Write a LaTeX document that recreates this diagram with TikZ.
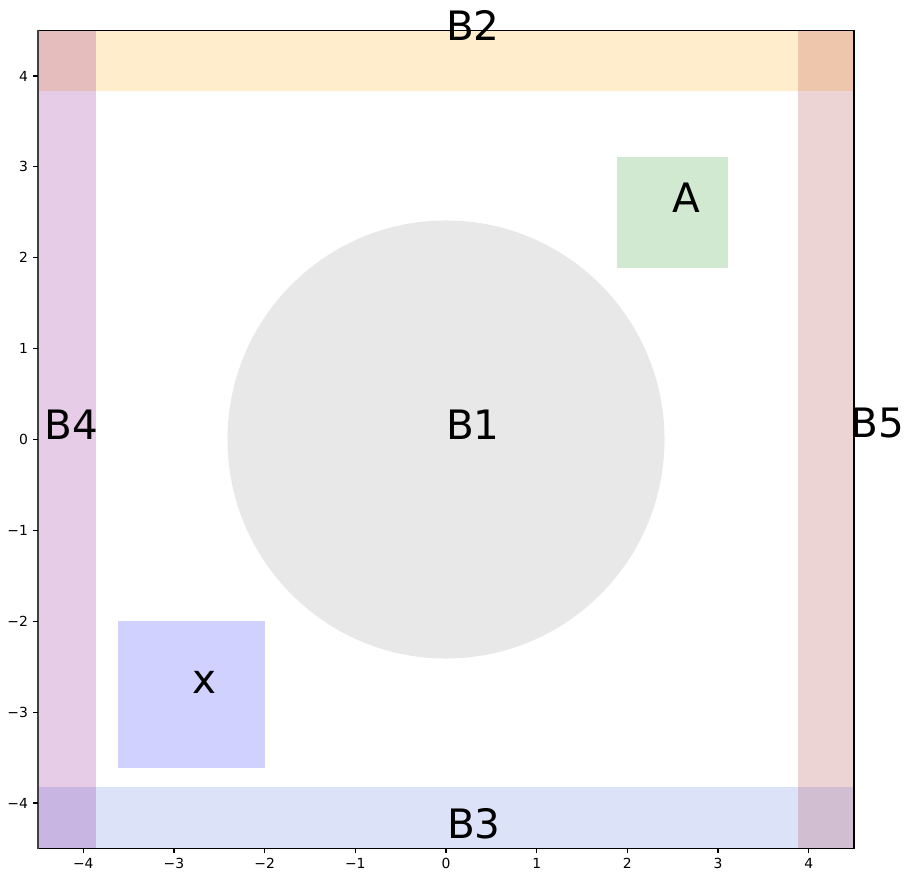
\documentclass[tikz,border=0pt]{standalone}
\usepackage{fontspec}
\setmainfont{DejaVu Sans}
\definecolor{cOrange}{RGB}{255,165,0}
\definecolor{cPurple}{RGB}{128,0,128}
\definecolor{cBrown}{RGB}{165,42,42}
\definecolor{cRoyal}{RGB}{65,105,225}
\definecolor{cGreen}{RGB}{0,128,0}
\definecolor{cBlue}{RGB}{0,0,255}
\definecolor{cGray}{RGB}{128,128,128}
\tikzset{
  patch/.style={fill=#1, fill opacity=0.2},
  biglabel/.style={anchor=base west, inner sep=0pt, font=\fontsize{40.5bp}{48bp}\selectfont},
  ticklabel/.style={inner sep=0pt, font=\fontsize{13.9bp}{16bp}\selectfont},
  spine/.style={line width=1.11bp, line cap=rect},
  tickmark/.style={line width=1.11bp}
}
\begin{document}
\begin{tikzpicture}[x=1bp,y=1bp]
\useasboundingbox (0,0) rectangle (913,879);
\begin{scope}[shift={(446,439.5)}]
\begin{scope}[x=90.67bp, y=90.88bp]
  \begin{scope}
    \clip (-4.5,-4.5) rectangle (4.5,4.5);
    % B1 circle
    \path[patch=cGray, fill opacity=0.185] (0,0) circle (2.41);
    % B2 top band
    \path[patch=cOrange] (-5,3.83) rectangle (5,5);
    % B3 bottom band
    \path[patch=cRoyal, fill opacity=0.185] (-5,-3.82) rectangle (5,-5);
    % B4 left band
    \path[patch=cPurple] (-5,-5) rectangle (-3.86,5);
    % B5 right band
    \path[patch=cBrown] (3.88,-5) rectangle (5,5);
    % A square
    \path[patch=cGreen, fill opacity=0.18] (1.89,1.89) rectangle (3.11,3.11);
    % x square
    \path[patch=cBlue, fill opacity=0.18] (-3.62,-3.62) rectangle (-2,-2);
  \end{scope}
  % axes frame
  \coordinate (ll) at (-4.5,-4.5);
  \coordinate (lr) at (4.5,-4.5);
  \coordinate (ul) at (-4.5,4.5);
  \coordinate (ur) at (4.5,4.5);
  \draw[spine] (ll) -- (lr) -- (ur) -- (ul);
  \draw[spine, black!75] (ul) -- (ll);
  % ticks and labels
  \foreach \v/\t in {-4/{−4},-3/{−3},-2/{−2},-1/{−1},0/{0},1/{1},2/{2},3/{3},4/{4}} {
    \coordinate (xt\v) at (\v,-4.5);
    \draw[tickmark] (xt\v) -- ++(0,-4.9bp) coordinate (xe\v);
    \node[ticklabel, anchor=north] (xl\v) at ([yshift=-4.9bp]xe\v) {\t};
    \coordinate (yt\v) at (-4.5,\v);
    \draw[tickmark] (yt\v) -- ++(-4.9bp,0) coordinate (ye\v);
    \node[ticklabel, anchor=east] (yl\v) at ([xshift=-4.9bp]ye\v) {\t};
  }
  % labels
  \node[biglabel] (B1) at (0,0) {B1};
  \node[biglabel] (B2) at (0,4.39) {B2};
  \node[biglabel] (B3) at (0.01,-4.385) {B3};
  \node[biglabel] (B4) at (-4.43,0) {B4};
  \node[biglabel] (B5) at (4.46,0.02) {B5};
  \node[biglabel] (A) at (2.5,2.5) {A};
  \node[biglabel] (X) at (-2.8,-2.8) {x};
\end{scope}
\end{scope}
\end{tikzpicture}
\end{document}
